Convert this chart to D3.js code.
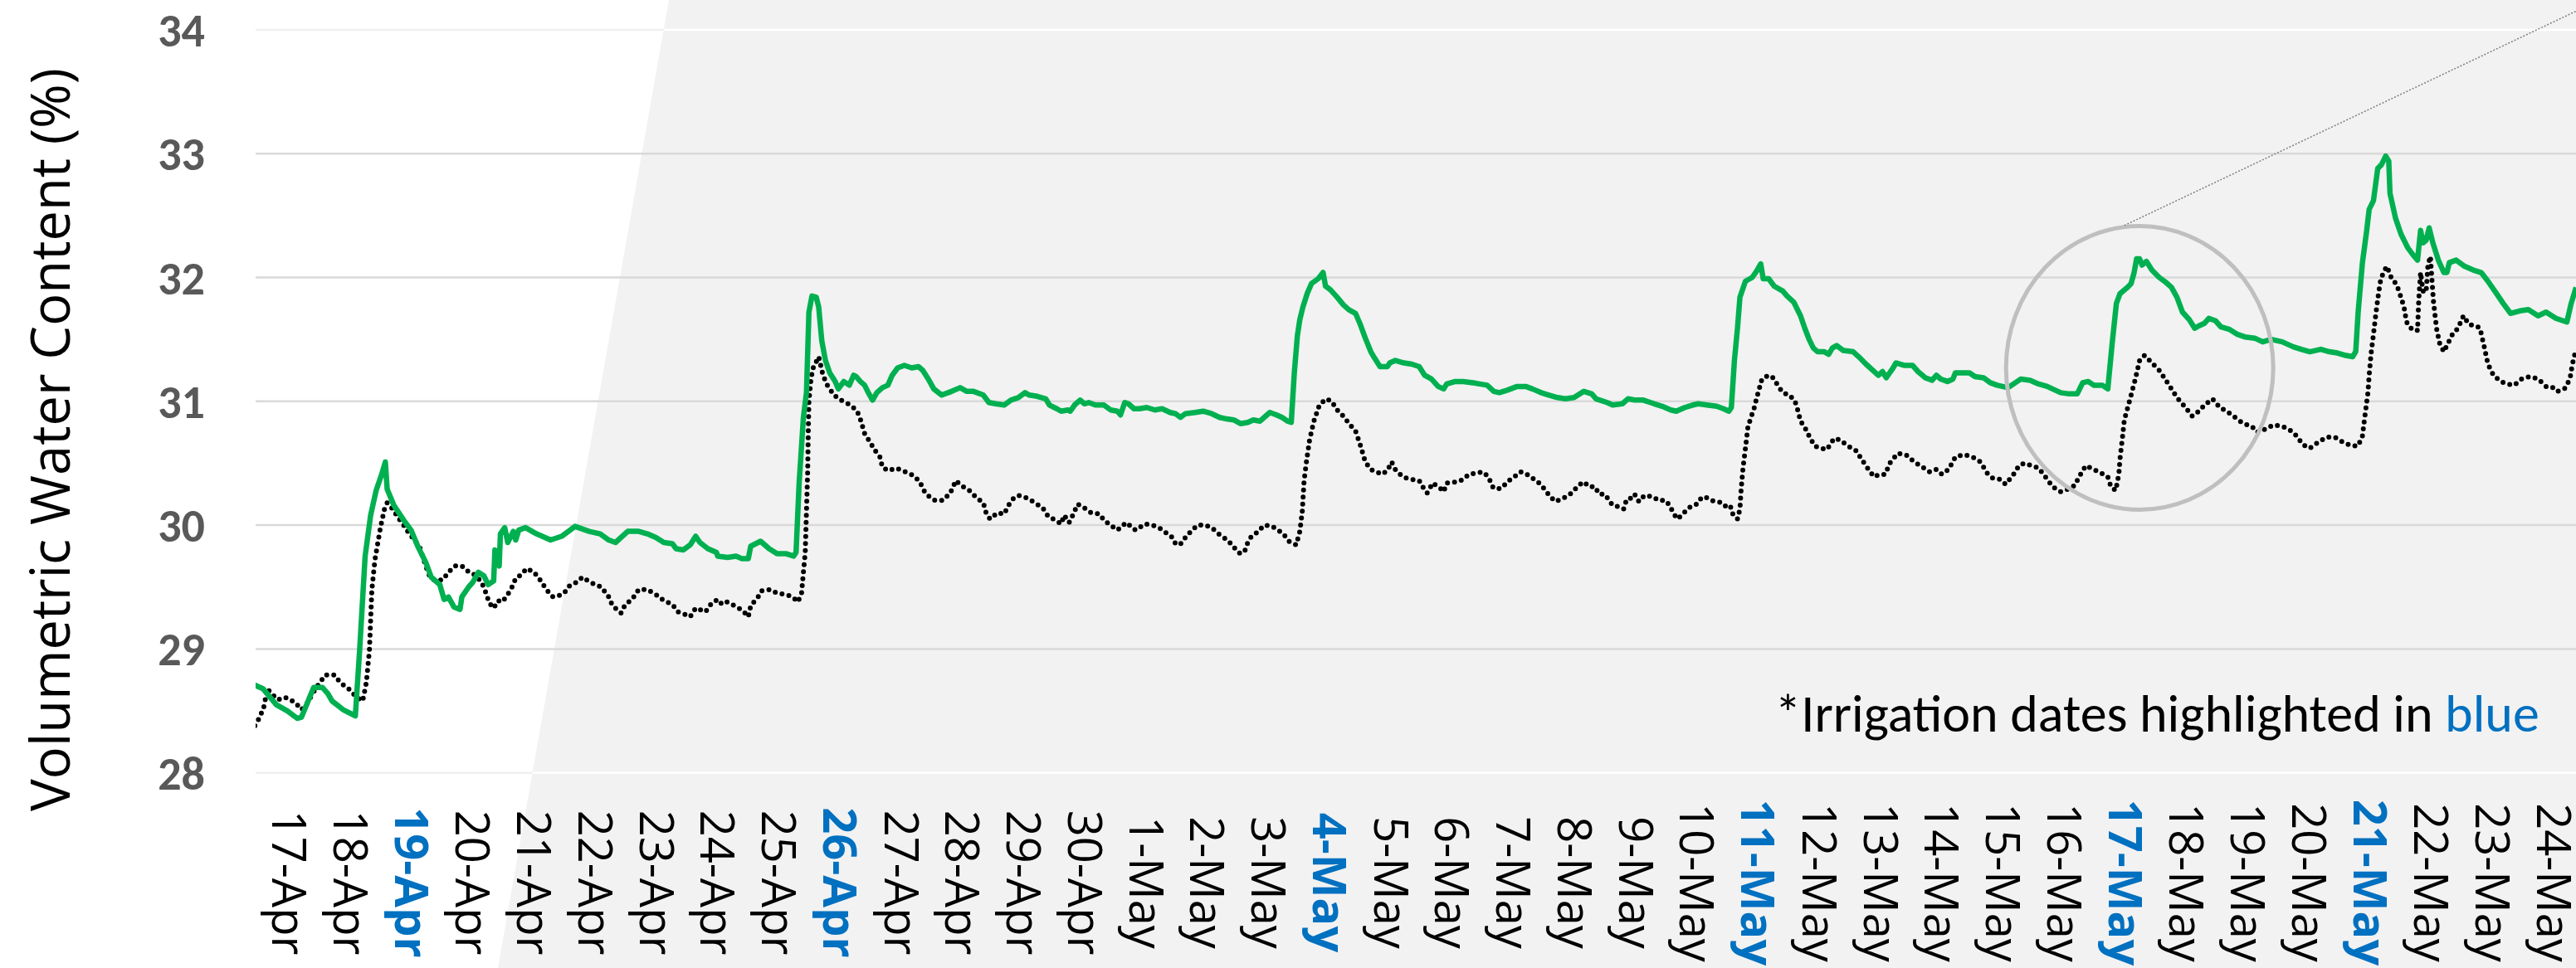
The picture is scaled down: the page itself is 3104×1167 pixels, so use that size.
<!DOCTYPE html>
<html>
<head>
<meta charset="utf-8">
<script src="https://cdn.jsdelivr.net/npm/d3@7"></script>
<style>
body{margin:0;background:#fff;}
svg{display:block;}
</style>
</head>
<body>
<div id="chart"></div>
<script>
// x values are days counted from the 17-Apr label
const dayLabels = ["17-Apr","18-Apr","19-Apr","20-Apr","21-Apr","22-Apr","23-Apr","24-Apr","25-Apr","26-Apr",
  "27-Apr","28-Apr","29-Apr","30-Apr","1-May","2-May","3-May","4-May","5-May","6-May","7-May","8-May","9-May",
  "10-May","11-May","12-May","13-May","14-May","15-May","16-May","17-May","18-May","19-May","20-May","21-May",
  "22-May","23-May","24-May"];
const irrigationDays = ["19-Apr","26-Apr","4-May","11-May","17-May","21-May"];
const yTicks = [28,29,30,31,32,33,34];

// green solid series
const sensorGreen = [[-0.59,28.71],[-0.45,28.68],[-0.23,28.55],[-0.05,28.50],[0.11,28.44],[0.18,28.45],[0.38,28.69],[0.52,28.69],[0.61,28.64],[0.68,28.58],[0.86,28.51],[1.06,28.46],[1.13,28.99],[1.22,29.75],[1.31,30.08],[1.40,30.28],[1.49,30.41],[1.55,30.51],[1.58,30.29],[1.69,30.16],[1.85,30.04],[1.97,29.96],[2.08,29.83],[2.21,29.70],[2.30,29.58],[2.44,29.52],[2.51,29.40],[2.58,29.42],[2.67,29.34],[2.77,29.32],[2.80,29.42],[2.91,29.50],[2.98,29.54],[3.07,29.62],[3.16,29.59],[3.23,29.52],[3.32,29.55],[3.34,29.80],[3.41,29.67],[3.43,29.93],[3.50,29.98],[3.55,29.86],[3.64,29.95],[3.68,29.88],[3.73,29.96],[3.84,29.98],[4.02,29.93],[4.25,29.88],[4.43,29.91],[4.65,29.99],[4.88,29.95],[5.06,29.93],[5.20,29.88],[5.31,29.86],[5.51,29.95],[5.69,29.95],
  [5.83,29.93],[5.97,29.90],[6.10,29.86],[6.24,29.85],[6.30,29.81],[6.42,29.80],[6.53,29.84],[6.62,29.91],[6.69,29.86],[6.82,29.81],[6.96,29.78],[6.98,29.75],[7.14,29.74],[7.28,29.75],[7.37,29.73],[7.48,29.73],[7.52,29.83],[7.68,29.87],[7.82,29.81],[7.95,29.77],[8.09,29.77],[8.22,29.75],[8.26,29.78],[8.31,30.34],[8.38,30.87],[8.43,31.07],[8.47,31.72],[8.52,31.85],[8.59,31.84],[8.63,31.76],[8.68,31.49],[8.74,31.33],[8.81,31.23],[8.90,31.16],[8.95,31.10],[9.04,31.16],[9.13,31.13],[9.20,31.21],[9.24,31.20],[9.31,31.16],[9.38,31.13],[9.44,31.07],[9.51,31.01],[9.58,31.07],[9.67,31.11],[9.76,31.13],[9.83,31.21],[9.92,31.27],[10.03,31.29],[10.15,31.27],[10.26,31.28],[10.33,31.25],[10.42,31.18],[10.51,31.10],[10.64,31.05],[10.80,31.08],[10.94,31.11],[11.05,31.08],[11.16,31.08],[11.32,31.05],[11.41,30.99],[11.52,30.98],[11.66,30.97],[11.77,31.01],[11.89,31.03],[12.00,31.07],[12.07,31.05],
  [12.20,31.04],[12.34,31.02],[12.40,30.97],[12.52,30.94],[12.59,30.92],[12.70,30.93],[12.74,30.92],[12.81,30.97],[12.90,31.01],[12.97,30.98],[13.04,30.99],[13.15,30.97],[13.29,30.97],[13.40,30.93],[13.51,30.92],[13.56,30.89],[13.63,30.99],[13.69,30.98],[13.78,30.94],[13.87,30.94],[13.99,30.95],[14.12,30.93],[14.24,30.94],[14.37,30.91],[14.46,30.90],[14.54,30.87],[14.62,30.90],[14.78,30.91],[14.91,30.92],[15.05,30.90],[15.18,30.87],[15.27,30.86],[15.41,30.85],[15.52,30.82],[15.64,30.83],[15.73,30.85],[15.84,30.84],[15.93,30.88],[16.00,30.91],[16.11,30.89],[16.20,30.87],[16.29,30.84],[16.35,30.83],[16.40,31.23],[16.45,31.53],[16.49,31.66],[16.54,31.76],[16.61,31.87],[16.68,31.95],[16.79,31.99],[16.87,32.04],[16.91,31.93],[16.99,31.90],[17.10,31.84],[17.20,31.78],[17.29,31.74],[17.40,31.71],[17.47,31.63],[17.56,31.51],[17.65,31.40],[17.71,31.35],[17.80,31.28],[17.92,31.28],[17.96,31.31],[18.05,31.33],[18.19,31.31],[18.32,31.30],[18.44,31.28],
  [18.53,31.21],[18.64,31.18],[18.75,31.12],[18.84,31.10],[18.89,31.14],[19.03,31.16],[19.16,31.16],[19.32,31.15],[19.43,31.14],[19.55,31.13],[19.66,31.08],[19.75,31.07],[19.88,31.09],[20.04,31.12],[20.18,31.12],[20.29,31.10],[20.43,31.07],[20.56,31.05],[20.70,31.03],[20.83,31.02],[20.97,31.03],[21.13,31.08],[21.26,31.06],[21.33,31.02],[21.51,30.99],[21.60,30.97],[21.76,30.98],[21.85,31.02],[21.96,31.01],[22.10,31.01],[22.28,30.98],[22.41,30.96],[22.55,30.93],[22.64,30.92],[22.78,30.95],[22.91,30.97],[23.00,30.98],[23.14,30.97],[23.30,30.96],[23.41,30.94],[23.50,30.92],[23.54,30.95],[23.59,31.33],[23.64,31.59],[23.68,31.84],[23.77,31.97],[23.88,32.00],[23.95,32.05],[24.02,32.11],[24.06,31.99],[24.15,31.99],[24.24,31.93],[24.38,31.89],[24.45,31.85],[24.56,31.80],[24.67,31.69],[24.74,31.59],[24.81,31.50],
  [24.88,31.43],[24.95,31.40],[25.06,31.40],[25.13,31.38],[25.19,31.43],[25.26,31.45],[25.37,31.41],[25.53,31.40],[25.62,31.36],[25.74,31.30],[25.85,31.25],[25.94,31.21],[26.01,31.24],[26.07,31.19],[26.17,31.26],[26.23,31.31],[26.37,31.29],[26.50,31.29],[26.59,31.24],[26.71,31.19],[26.82,31.17],[26.89,31.21],[26.96,31.18],[27.07,31.16],[27.16,31.18],[27.20,31.23],[27.34,31.23],[27.43,31.23],[27.52,31.20],[27.66,31.19],[27.77,31.15],[27.88,31.13],[27.97,31.12],[28.06,31.11],[28.15,31.14],[28.27,31.18],[28.42,31.17],[28.56,31.14],[28.70,31.12],[28.83,31.09],[28.92,31.07],[29.06,31.06],[29.19,31.06],[29.28,31.15],[29.37,31.16],[29.46,31.13],[29.60,31.13],[29.69,31.10],[29.76,31.46],[29.83,31.79],[29.89,31.87],[30.01,31.92],[30.07,31.95],[30.12,32.04],[30.16,32.15],[30.21,32.15],[30.25,32.10],[30.32,32.13],[30.41,32.06],[30.53,32.00],[30.64,31.96],[30.73,31.92],[30.82,31.84],[30.91,31.72],[31.02,31.66],[31.11,31.59],[31.18,31.61],
  [31.27,31.63],[31.34,31.67],[31.45,31.65],[31.54,31.60],[31.68,31.58],[31.81,31.54],[31.93,31.52],[32.09,31.51],[32.22,31.48],[32.36,31.50],[32.54,31.48],[32.72,31.44],[32.85,31.42],[32.99,31.40],[33.17,31.42],[33.31,31.40],[33.44,31.39],[33.58,31.37],[33.69,31.36],[33.74,31.40],[33.78,31.72],[33.85,32.12],[33.92,32.38],[33.96,32.55],[34.03,32.62],[34.10,32.88],[34.16,32.91],[34.23,32.98],[34.28,32.94],[34.30,32.68],[34.39,32.48],[34.48,32.35],[34.59,32.24],[34.68,32.18],[34.75,32.14],[34.80,32.38],[34.84,32.28],[34.89,32.30],[34.94,32.40],[35.00,32.28],[35.09,32.14],[35.18,32.04],[35.23,32.04],[35.27,32.12],[35.38,32.14],[35.52,32.09],[35.66,32.06],[35.79,32.04],[35.90,31.97],[36.04,31.87],[36.15,31.79],[36.27,31.71],[36.42,31.73],[36.56,31.74],[36.72,31.69],[36.85,31.72],[37.01,31.67],[37.19,31.64],[37.26,31.79],[37.34,31.92]];

// black dotted series
const sensorDotted = [[-0.58,28.38],[-0.50,28.45],[-0.43,28.54],[-0.38,28.68],[-0.29,28.63],[-0.20,28.59],[-0.09,28.61],[0.00,28.59],[0.09,28.56],[0.18,28.51],[0.27,28.56],[0.41,28.68],[0.57,28.79],[0.72,28.79],[0.81,28.73],[0.97,28.67],[1.08,28.61],[1.18,28.58],[1.24,28.73],[1.29,28.99],[1.33,29.48],[1.38,29.72],[1.47,29.98],[1.54,30.14],[1.58,30.18],[1.67,30.13],[1.76,30.06],[1.85,30.00],[1.94,29.93],[2.03,29.88],[2.12,29.81],[2.21,29.67],[2.28,29.58],[2.37,29.55],[2.49,29.56],[2.58,29.62],[2.69,29.67],[2.80,29.67],[2.89,29.63],[2.98,29.61],[3.07,29.57],[3.16,29.50],[3.25,29.37],[3.32,29.33],[3.39,29.39],[3.46,29.38],[3.55,29.44],[3.62,29.50],[3.68,29.57],[3.77,29.60],[3.86,29.65],[3.98,29.62],[4.09,29.55],[4.18,29.48],[4.29,29.42],[4.38,29.43],[4.47,29.45],[4.56,29.51],[4.68,29.54],[4.77,29.58],[4.86,29.55],[4.97,29.52],[5.08,29.50],[5.20,29.42],[5.26,29.35],[5.40,29.29],[5.47,29.36],[5.58,29.40],[5.69,29.48],
  [5.83,29.48],[5.97,29.44],[6.10,29.39],[6.24,29.36],[6.33,29.30],[6.44,29.28],[6.53,29.26],[6.62,29.33],[6.78,29.30],[6.88,29.37],[6.98,29.40],[7.05,29.36],[7.13,29.38],[7.25,29.35],[7.39,29.31],[7.48,29.26],[7.52,29.35],[7.64,29.42],[7.70,29.47],[7.84,29.48],[7.95,29.45],[8.09,29.44],[8.20,29.42],[8.29,29.38],[8.35,29.45],[8.38,29.62],[8.41,29.78],[8.43,30.11],[8.45,30.44],[8.46,30.77],[8.47,31.00],[8.50,31.16],[8.53,31.26],[8.63,31.36],[8.70,31.21],[8.77,31.13],[8.88,31.05],[8.99,31.01],[9.11,30.98],[9.22,30.94],[9.29,30.89],[9.38,30.74],[9.47,30.67],[9.54,30.61],[9.63,30.55],[9.67,30.47],[9.76,30.44],[9.90,30.46],[9.99,30.44],[10.10,30.42],[10.21,30.39],[10.30,30.33],[10.37,30.26],[10.44,30.23],[10.53,30.20],[10.66,30.20],[10.78,30.26],[10.87,30.36],[10.96,30.32],[11.09,30.28],[11.21,30.22],[11.32,30.18],[11.37,30.09],[11.43,30.05],[11.55,30.10],[11.66,30.09],[11.73,30.16],[11.80,30.21],[11.89,30.24],[11.98,30.23],[12.07,30.21],
  [12.16,30.18],[12.29,30.14],[12.38,30.07],[12.50,30.04],[12.59,30.01],[12.64,30.08],[12.72,30.02],[12.79,30.09],[12.86,30.17],[12.97,30.14],[13.08,30.10],[13.22,30.09],[13.29,30.04],[13.40,30.00],[13.51,29.96],[13.63,30.01],[13.67,30.02],[13.74,29.98],[13.81,29.96],[13.87,29.98],[13.96,30.01],[14.08,30.00],[14.19,29.98],[14.30,29.94],[14.39,29.91],[14.46,29.85],[14.53,29.84],[14.62,29.90],[14.71,29.95],[14.82,30.00],[14.94,30.00],[15.05,29.98],[15.16,29.93],[15.25,29.90],[15.39,29.84],[15.46,29.79],[15.52,29.77],[15.59,29.79],[15.64,29.86],[15.70,29.91],[15.79,29.94],[15.91,30.00],[16.04,29.99],[16.13,29.96],[16.22,29.93],[16.31,29.87],[16.43,29.84],[16.49,29.95],[16.53,30.11],[16.56,30.36],[16.60,30.52],[16.65,30.69],[16.72,30.84],[16.81,30.97],[16.92,31.02],[17.01,31.00],[17.10,30.93],[17.20,30.88],[17.31,30.81],[17.40,30.76],[17.47,30.66],[17.56,30.51],[17.65,30.45],[17.74,30.43],[17.83,30.41],[17.92,30.44],[17.99,30.51],[18.05,30.45],[18.17,30.39],[18.30,30.37],[18.44,30.36],
  [18.51,30.30],[18.57,30.26],[18.66,30.34],[18.78,30.30],[18.84,30.27],[18.89,30.34],[19.07,30.35],[19.16,30.37],[19.25,30.41],[19.36,30.42],[19.48,30.43],[19.57,30.39],[19.64,30.31],[19.70,30.29],[19.79,30.30],[19.88,30.35],[20.02,30.40],[20.09,30.43],[20.18,30.42],[20.25,30.39],[20.36,30.36],[20.49,30.29],[20.58,30.23],[20.67,30.19],[20.76,30.21],[20.88,30.24],[20.95,30.27],[21.04,30.32],[21.13,30.35],[21.22,30.31],[21.31,30.31],[21.38,30.25],[21.47,30.25],[21.53,30.21],[21.60,30.16],[21.69,30.15],[21.78,30.13],[21.83,30.21],[21.92,30.22],[21.96,30.25],[22.03,30.19],[22.12,30.24],[22.26,30.23],[22.35,30.20],[22.46,30.20],[22.53,30.16],[22.60,30.09],[22.66,30.05],[22.75,30.09],[22.82,30.13],[22.91,30.16],[22.98,30.17],[23.05,30.22],[23.11,30.23],[23.21,30.20],[23.30,30.19],[23.39,30.18],[23.45,30.15],[23.52,30.16],[23.57,30.08],[23.64,30.05],[23.68,30.13],[23.70,30.29],[23.73,30.46],[23.77,30.62],[23.81,30.79],[23.86,30.87],[23.91,30.94],[23.95,31.02],[24.04,31.18],[24.15,31.21],[24.22,31.19],[24.31,31.12],[24.38,31.07],[24.49,31.05],[24.58,31.00],[24.63,30.92],[24.67,30.84],[24.74,30.79],[24.81,30.72],
  [24.90,30.64],[25.01,30.62],[25.10,30.61],[25.22,30.70],[25.31,30.69],[25.44,30.64],[25.58,30.60],[25.67,30.53],[25.78,30.45],[25.87,30.39],[25.96,30.41],[26.05,30.41],[26.14,30.51],[26.26,30.58],[26.39,30.57],[26.53,30.51],[26.66,30.47],[26.78,30.43],[26.89,30.45],[26.98,30.41],[27.09,30.45],[27.20,30.55],[27.34,30.57],[27.48,30.55],[27.61,30.51],[27.72,30.42],[27.81,30.38],[27.93,30.37],[28.02,30.33],[28.15,30.41],[28.24,30.48],[28.33,30.50],[28.45,30.48],[28.56,30.46],[28.67,30.39],[28.79,30.31],[28.92,30.27],[29.03,30.29],[29.15,30.32],[29.22,30.39],[29.33,30.48],[29.46,30.45],[29.58,30.42],[29.69,30.39],[29.74,30.31],[29.82,30.28],[29.87,30.41],[29.89,30.54],[29.93,30.71],[29.96,30.85],[30.01,30.94],[30.06,31.03],[30.14,31.18],[30.21,31.33],[30.29,31.37],[30.41,31.31],[30.53,31.25],[30.64,31.17],[30.73,31.10],[30.82,31.03],[30.96,30.95],[31.07,30.88],[31.18,30.92],
  [31.27,30.97],[31.40,31.02],[31.52,30.95],[31.63,30.92],[31.77,30.87],[31.90,30.82],[32.04,30.80],[32.13,30.75],[32.24,30.77],[32.40,30.81],[32.52,30.80],[32.63,30.78],[32.74,30.74],[32.88,30.65],[32.99,30.62],[33.13,30.67],[33.26,30.71],[33.40,30.71],[33.53,30.67],[33.67,30.64],[33.78,30.64],[33.85,30.72],[33.89,30.88],[33.94,31.07],[33.96,31.21],[33.99,31.38],[34.03,31.54],[34.07,31.71],[34.11,31.86],[34.14,31.96],[34.19,32.04],[34.25,32.09],[34.32,32.00],[34.41,31.94],[34.48,31.84],[34.53,31.76],[34.57,31.64],[34.64,31.59],[34.71,31.59],[34.75,31.57],[34.77,31.82],[34.80,32.04],[34.84,31.89],[34.89,31.88],[34.92,32.10],[34.96,32.17],[34.98,32.02],[35.01,31.81],[35.06,31.59],[35.11,31.47],[35.18,31.40],[35.25,31.47],[35.32,31.54],[35.41,31.59],[35.50,31.69],[35.59,31.62],[35.70,31.61],[35.77,31.59],[35.84,31.44],[35.90,31.30],[35.99,31.21],[36.11,31.16],[36.22,31.14],[36.33,31.13],[36.45,31.18],[36.58,31.20],[36.72,31.18],[36.85,31.12],[36.94,31.12],[37.03,31.08],[37.15,31.10],[37.24,31.18],[37.28,31.30],[37.33,31.40]];

// callout around the 17-May event, in data units
const calloutCenter = [30.21, 31.27];
const calloutLine = [[29.96, 32.42], [37.34, 34.15]];
const noteAnchor = [36.74, 28.33];

const width = 3104, height = 1167;
const plotLeft = 308;

let svg = d3.select('#chart').append('svg')
  .attr('width', width)
  .attr('height', height);

let x = d3.scaleLinear().domain([0, 37]).range([350, 3079]);
let y = d3.scaleLinear().domain([28, 34]).range([931.7, 35.9]);

// white left part, light grey slanted panel on the right
svg.append('rect').attr('width', width).attr('height', height).attr('fill', '#ffffff');
let panelTop = 806, panelBottom = 600;
svg.append('polygon')
  .attr('points', [[panelTop,0],[width,0],[width,height],[panelBottom,height]].join(' '))
  .attr('fill', '#f2f2f2');
function panelEdge(py){ return panelTop + (panelBottom - panelTop) * py / height; }

let grid = svg.append('g');
yTicks.forEach(function(v){
  let edge = (v == 28 || v == 34);
  grid.append('line')
    .attr('x1', plotLeft).attr('x2', width)
    .attr('y1', y(v)).attr('y2', y(v))
    .attr('stroke', edge ? '#ffffff' : '#d9d9d9')
    .attr('stroke-width', 2.5);
  if (edge) {
    grid.append('line')
      .attr('x1', plotLeft).attr('x2', panelEdge(y(v)))
      .attr('y1', y(v)).attr('y2', y(v))
      .attr('stroke', '#f0f0f0')
      .attr('stroke-width', 2.5);
  }
});

svg.append('clipPath').attr('id', 'plotclip')
  .append('rect').attr('x', plotLeft).attr('y', 0).attr('width', width - plotLeft).attr('height', height);

let line = d3.line()
  .x(function(d){ return x(d[0]); })
  .y(function(d){ return y(d[1]); });

let plot = svg.append('g').attr('clip-path', 'url(#plotclip)');

plot.append('path')
  .datum(sensorDotted)
  .attr('d', line)
  .attr('fill', 'none')
  .attr('stroke', '#000000')
  .attr('stroke-width', 6)
  .attr('stroke-linecap', 'round')
  .attr('stroke-dasharray', '0 8.5');

plot.append('path')
  .datum(sensorGreen)
  .attr('d', line)
  .attr('fill', 'none')
  .attr('stroke', '#00b050')
  .attr('stroke-width', 6.5)
  .attr('stroke-linejoin', 'round');

// callout
svg.append('ellipse')
  .attr('cx', x(calloutCenter[0])).attr('cy', y(calloutCenter[1]))
  .attr('rx', 161).attr('ry', 171)
  .attr('fill', 'none')
  .attr('stroke', '#bfbfbf')
  .attr('stroke-width', 5);

svg.append('line')
  .attr('x1', x(calloutLine[0][0])).attr('y1', y(calloutLine[0][1]))
  .attr('x2', x(calloutLine[1][0])).attr('y2', y(calloutLine[1][1]))
  .attr('stroke', '#7f7f7f')
  .attr('stroke-width', 1.5)
  .attr('stroke-dasharray', '2 2');

// y ticks
svg.append('g').selectAll('text')
  .data(yTicks)
  .enter()
  .append('text')
  .attr('x', 247)
  .attr('y', function(d){ return y(d) + 20; })
  .attr('text-anchor', 'end')
  .style('font-family', "Carlito, 'Liberation Sans Narrow', 'Arial Narrow', sans-serif")
  .style('font-weight', 'bold')
  .style('font-size', '56px')
  .style('fill', '#595959')
  .text(function(d){ return d; });

// x labels, rotated
svg.append('g').selectAll('text')
  .data(dayLabels)
  .enter()
  .append('text')
  .attr('transform', function(d, i){ return 'translate(' + x(i) + ',1064) rotate(90)'; })
  .attr('text-anchor', 'middle')
  .attr('dominant-baseline', 'central')
  .style('font-family', "'Open Sans', sans-serif")
  .style('font-size', '56px')
  .style('font-weight', function(d){ return irrigationDays.indexOf(d) >= 0 ? 'bold' : 'normal'; })
  .style('fill', function(d){ return irrigationDays.indexOf(d) >= 0 ? '#0070c0' : '#000000'; })
  .text(function(d){ return d; });

svg.append('text')
  .attr('transform', 'translate(84,530) rotate(-90)')
  .attr('text-anchor', 'middle')
  .style('font-family', "'Open Sans', sans-serif")
  .style('font-size', '65px')
  .style('fill', '#000000')
  .text('Volumetric Water Content (%)');

let note = svg.append('text')
  .attr('x', x(noteAnchor[0]))
  .attr('y', y(noteAnchor[1]))
  .attr('text-anchor', 'end')
  .style('font-family', "Carlito, 'Liberation Sans Narrow', 'Arial Narrow', sans-serif")
  .style('font-size', '64px')
  .style('fill', '#000000');
note.append('tspan').text('*Irrigation dates highlighted in ');
note.append('tspan').style('fill', '#0070c0').text('blue');
</script>
</body>
</html>
